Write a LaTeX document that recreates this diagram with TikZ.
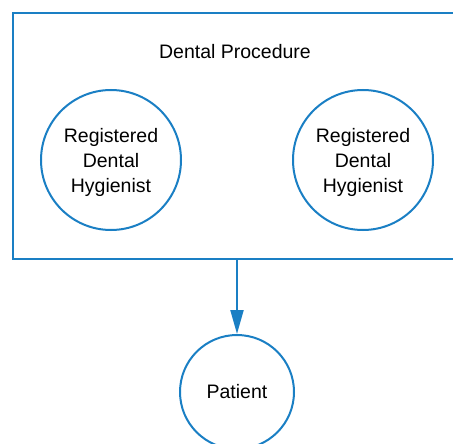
\documentclass[tikz,border=0pt]{standalone}
\usepackage{fontspec}
\setmainfont{Liberation Sans}
\usetikzlibrary{arrows.meta}
\definecolor{edgeblue}{HTML}{1A7FC4}
\begin{document}
\begin{tikzpicture}[x=1pt,y=-1pt,
  every node/.style={font=\fontsize{19.5}{25}\selectfont, text=black},
  circ/.style={draw=edgeblue, line width=2pt, circle, align=center, inner sep=0pt},
  frame/.style={draw=edgeblue, line width=2pt},
  conn/.style={draw=edgeblue, line width=2pt, -{Triangle[length=24pt,width=13pt]}}]
\useasboundingbox (0,0) rectangle (453,444);
\clip (0,0) rectangle (453,444);
\draw[frame] (13,13) rectangle (480,259);
\node (title) at (235,52) {Dental Procedure};
\node[circ, minimum size=140pt] (h1) at (111,160) {};
\node at (111,162) {\begin{tabular}{@{}c@{}}Registered\\Dental\\Hygienist\end{tabular}};
\node[circ, minimum size=140pt] (h2) at (363,160) {};
\node at (363,162) {\begin{tabular}{@{}c@{}}Registered\\Dental\\Hygienist\end{tabular}};
\node[circ, minimum size=114pt] (pat) at (237,392) {Patient};
\coordinate (src) at (237,259);
\draw[conn] (src) -- (pat.north);
\end{tikzpicture}
\end{document}
